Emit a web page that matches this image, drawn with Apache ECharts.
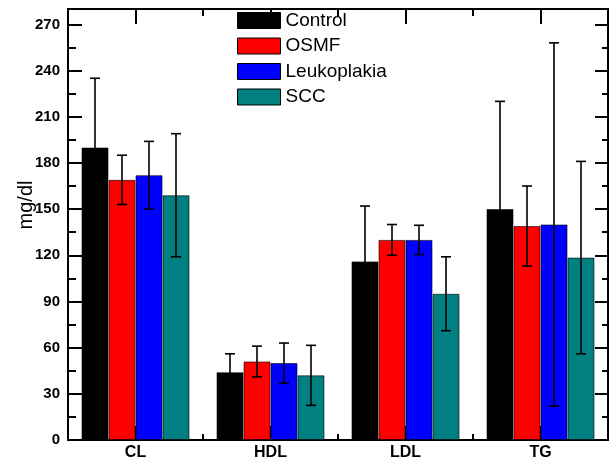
<!DOCTYPE html>
<html>
<head>
<meta charset="utf-8">
<script src="https://cdn.jsdelivr.net/npm/echarts@6/dist/echarts.min.js"></script>
<style>
  html, body { margin: 0; padding: 0; background: #fff; }
  #chart { width: 613px; height: 461px; }
</style>
</head>
<body>
<div id="chart"></div>
<script>
const categories = ['CL', 'HDL', 'LDL', 'TG'];
const groups = ['Control', 'OSMF', 'Leukoplakia', 'SCC'];
const colors = ['#000000', '#ff0000', '#0000ff', '#008080'];

// mean values
const controlMean = [190, 44, 116, 150];
const osmfMean = [169, 51, 130, 139];
const leukoMean = [172, 50, 130, 140];
const sccMean = [159, 42, 95, 118.5];

// +/- SD (error bar half lengths)
const controlSD = [45, 12, 36, 70];
const osmfSD = [16, 10, 10, 26];
const leukoSD = [22, 13, 9.5, 118];
const sccSD = [40, 19.5, 24, 62.5];

const means = [controlMean, osmfMean, leukoMean, sccMean];
const sds = [controlSD, osmfSD, leukoSD, sccSD];

const font = 'Arial, "Liberation Sans", sans-serif';

function errorSeries(idx) {
  return {
    type: 'custom',
    name: groups[idx] + ' SD',
    z: 10,
    silent: true,
    data: means[idx].map((m, i) => [i, m, sds[idx][i]]),
    encode: { x: 0, y: 1 },
    renderItem: (params, api) => {
      const ci = api.value(0)
      const m = api.value(1)
      const sd = api.value(2)
      const band = api.size([1, 0])[0]
      const bw = band * 0.8 / 4
      const cx = api.coord([ci, m])[0] - band * 0.4 + bw * (idx + 0.5)
      const yT = api.coord([ci, m + sd])[1]
      const yB = api.coord([ci, Math.max(m - sd, 0)])[1]
      const cap = 5
      const style = { stroke: '#000', lineWidth: 1.6 }
      return {
        type: 'group',
        children: [
          { type: 'line', shape: { x1: cx, y1: yT, x2: cx, y2: yB }, style },
          { type: 'line', shape: { x1: cx - cap, y1: yT, x2: cx + cap, y2: yT }, style },
          { type: 'line', shape: { x1: cx - cap, y1: yB, x2: cx + cap, y2: yB }, style }
        ]
      }
    }
  }
}

const axisLineStyle = { color: '#000', width: 2 };
const tickStyle = { width: 2, color: '#000' };

const chart = echarts.init(document.getElementById('chart'));
const option = {
  animation: false,
  backgroundColor: '#fff',
  grid: { left: 68, right: 5, top: 9, bottom: 21 },
  legend: {
    data: groups,
    orient: 'vertical',
    left: 237,
    top: 11,
    padding: 0,
    itemGap: 6.5,
    itemWidth: 43,
    itemHeight: 16,
    selectedMode: false,
    icon: 'rect',
    itemStyle: { borderColor: '#000', borderWidth: 1 },
    textStyle: { fontSize: 19, color: '#000', fontFamily: font }
  },
  graphic: [{
    type: 'text',
    x: 26,
    y: 205,
    rotation: Math.PI / 2,
    style: {
      text: 'mg/dl',
      fontSize: 20,
      fontFamily: font,
      fill: '#000',
      align: 'center',
      verticalAlign: 'middle'
    }
  }],
  xAxis: [
    {
      type: 'category',
      data: categories,
      position: 'bottom',
      offset: 0,
      axisLine: { lineStyle: axisLineStyle },
      axisTick: { show: true, inside: true, length: 6, lineStyle: tickStyle },
      axisLabel: { color: '#000', fontWeight: 'bold', fontSize: 16, fontFamily: font, margin: 5 }
    },
    {
      type: 'category',
      data: categories,
      position: 'bottom',
      offset: 0,
      axisLine: { show: true, lineStyle: axisLineStyle },
      axisTick: { show: true, alignWithLabel: true, inside: true, length: 14, lineStyle: tickStyle },
      axisLabel: { show: false }
    },
    {
      type: 'category',
      data: categories,
      position: 'top',
      offset: 0,
      axisLine: { show: true, lineStyle: axisLineStyle },
      axisTick: { show: true, inside: true, length: 7, lineStyle: tickStyle },
      axisLabel: { show: false }
    },
    {
      type: 'category',
      data: categories,
      position: 'top',
      offset: 0,
      axisLine: { show: true, lineStyle: axisLineStyle },
      axisTick: { show: true, alignWithLabel: true, inside: true, length: 15, lineStyle: tickStyle },
      axisLabel: { show: false }
    }
  ],
  yAxis: [
    {
      type: 'value',
      position: 'left',
      min: 0,
      max: 280,
      interval: 30,
      axisLine: { show: true, lineStyle: axisLineStyle },
      axisTick: { show: true, inside: true, length: 14, lineStyle: tickStyle },
      minorTick: { show: true, splitNumber: 2, length: 8, lineStyle: tickStyle },
      splitLine: { show: false },
      axisLabel: { color: '#000', fontWeight: 'bold', fontSize: 15, fontFamily: font, margin: 8, showMaxLabel: false }
    },
    {
      type: 'value',
      position: 'right',
      min: 0,
      max: 280,
      interval: 30,
      axisLine: { show: true, lineStyle: axisLineStyle },
      axisTick: { show: true, inside: true, length: 13, lineStyle: tickStyle },
      minorTick: { show: true, splitNumber: 2, length: 6, lineStyle: tickStyle },
      splitLine: { show: false },
      axisLabel: { show: false }
    }
  ],
  series: groups.map((g, i) => ({
    name: g,
    type: 'bar',
    data: means[i],
    barGap: '0%',
    barCategoryGap: '20%',
    itemStyle: { color: colors[i], borderColor: 'rgba(0,0,0,0.6)', borderWidth: 1 }
  })).concat(groups.map((g, i) => errorSeries(i)))
};
chart.setOption(option);
</script>
</body>
</html>
